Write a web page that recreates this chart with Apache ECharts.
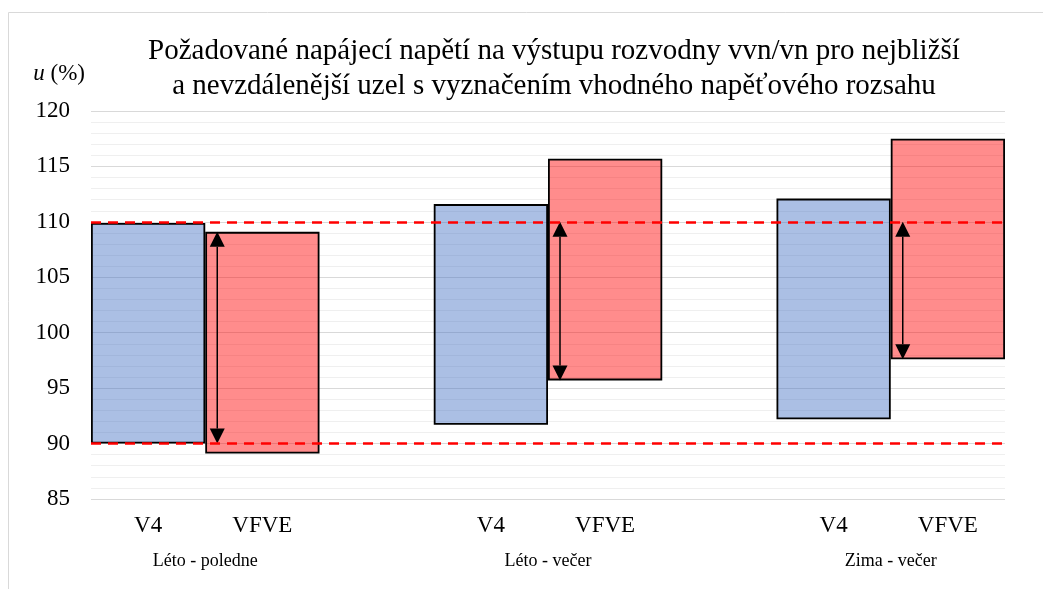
<!DOCTYPE html>
<html>
<head>
<meta charset="utf-8">
<style>
  html, body { margin: 0; padding: 0; background: #fff; }
  #chart { width: 1043px; height: 589px; }
</style>
<script src="https://cdn.jsdelivr.net/npm/echarts@6/dist/echarts.min.js"></script>
</head>
<body>
<div id="chart"></div>
<script>
// slots along the x axis: V4, VFVE, gap, V4, VFVE, gap, V4, VFVE
const slotLabels = ["V4", "VFVE", "", "V4", "VFVE", "", "V4", "VFVE"];
const groupNames = ["Léto - poledne", "Léto - večer", "Zima - večer"];
const groupStart = [0, 3, 6];

// voltage ranges (%)
const v4Low = [90, 91.7, 92.2];
const v4High = [109.9, 111.6, 112.1];
const vfveLow = [89.1, 95.7, 97.6];
const vfveHigh = [109.1, 115.7, 117.5];

// suitable range limits and arrows (from, to)
const limits = [110, 90];
const arrowTop = [109.1, 110, 110];
const arrowBottom = [90, 95.7, 97.6];

const yTicks = [85, 90, 95, 100, 105, 110, 115, 120];

const font = "Liberation Serif";

// build slot arrays for the floating stacked bars
const baseData = slotLabels.map(() => "-");
const v4Data = slotLabels.map(() => "-");
const vfveData = slotLabels.map(() => "-");
groupStart.forEach((s, i) => {
  baseData[s] = v4Low[i];
  v4Data[s] = +(v4High[i] - v4Low[i]).toFixed(2);
  baseData[s + 1] = vfveLow[i];
  vfveData[s + 1] = +(vfveHigh[i] - vfveLow[i]).toFixed(2);
});
const arrowData = groupStart.map((s, i) => [s + 1, arrowTop[i], arrowBottom[i]]);

const groupLabelAt = {};
groupStart.forEach((s, i) => { groupLabelAt[s + 1] = groupNames[i]; });

const chart = echarts.init(document.getElementById("chart"));

function renderArrow(params, api) {
  const idx = api.value(0);
  const p1 = api.coord([idx, api.value(1)]);
  const p2 = api.coord([idx, api.value(2)]);
  const band = api.size([1, 0])[0];
  const x = p1[0] - band / 2 + 12;
  const head = 15;
  const half = 7.5;
  return {
    type: "group",
    children: [
      {
        type: "line",
        shape: { x1: x, y1: p1[1] + head, x2: x, y2: p2[1] - head },
        style: { stroke: "#000", lineWidth: 1.5 },
      },
      {
        type: "polygon",
        shape: { points: [[x, p1[1]], [x - half, p1[1] + head], [x + half, p1[1] + head]] },
        style: { fill: "#000" },
      },
      {
        type: "polygon",
        shape: { points: [[x, p2[1]], [x - half, p2[1] - head], [x + half, p2[1] - head]] },
        style: { fill: "#000" },
      },
    ],
  };
}

chart.setOption({
  animation: false,
  title: {
    text: "Požadované napájecí napětí na výstupu rozvodny vvn/vn pro nejbližší\na nevzdálenější uzel s vyznačením vhodného napěťového rozsahu",
    left: 549,
    top: 29,
    textAlign: "center",
    textStyle: { fontFamily: font, fontSize: 29, fontWeight: "normal", color: "#000", lineHeight: 35 },
  },
  graphic: [
    {
      type: "rect",
      shape: { x: 8.5, y: 12.5, width: 1200, height: 800 },
      style: { fill: "none", stroke: "#d9d9d9", lineWidth: 1 },
      silent: true,
    },
  ],
  grid: { left: 91, right: 38, top: 111, bottom: 90 },
  xAxis: [
    {
      type: "category",
      data: slotLabels,
      axisLine: { show: false },
      axisTick: { show: false },
      axisLabel: { interval: 0, margin: 15, fontFamily: font, fontSize: 23, color: "#000" },
    },
    {
      type: "value",
      min: 0,
      max: 8,
      interval: 1,
      position: "bottom",
      offset: 40,
      axisLine: { show: false },
      axisTick: { show: false },
      splitLine: { show: false },
      axisLabel: {
        margin: 13,
        fontFamily: font,
        fontSize: 18,
        color: "#000",
        formatter: (v) => groupLabelAt[v] || "",
      },
    },
  ],
  yAxis: {
    type: "value",
    min: yTicks[0],
    max: yTicks[yTicks.length - 1],
    interval: 5,
    name: "{i|u} (%)",
    nameLocation: "end",
    nameGap: 26,
    nameTextStyle: {
      align: "right",
      padding: [0, 6, 0, 0],
      fontFamily: font,
      fontSize: 23,
      color: "#000",
      rich: { i: { fontFamily: font, fontSize: 23, fontStyle: "italic", color: "#000" } },
    },
    axisLine: { show: false },
    axisTick: { show: false },
    axisLabel: { margin: 21, fontFamily: font, fontSize: 23, color: "#000" },
    splitLine: { lineStyle: { color: "#d9d9d9", width: 1 } },
    minorTick: { show: false, splitNumber: 5 },
    minorSplitLine: { show: true, lineStyle: { color: "#efefef", width: 1 } },
  },
  series: [
    {
      name: "base",
      type: "bar",
      stack: "range",
      barWidth: "100%",
      data: baseData,
      itemStyle: { color: "transparent", borderWidth: 0 },
      silent: true,
    },
    {
      name: "V4",
      type: "bar",
      stack: "range",
      barWidth: "100%",
      data: v4Data,
      itemStyle: { color: "rgba(68,114,196,0.45)", borderColor: "#000", borderWidth: 1.8 },
    },
    {
      name: "VFVE",
      type: "bar",
      stack: "range",
      barWidth: "100%",
      data: vfveData,
      itemStyle: { color: "rgba(255,0,0,0.45)", borderColor: "#000", borderWidth: 1.8 },
    },
    {
      name: "arrows",
      type: "custom",
      renderItem: renderArrow,
      data: arrowData,
      encode: { x: 0, y: [1, 2] },
      z: 4,
      markLine: {
        silent: true,
        symbol: "none",
        label: { show: false },
        lineStyle: { color: "#ff0000", type: [10, 7], width: 2.5 },
        data: limits.map((v) => ({ yAxis: v })),
      },
    },
  ],
});
</script>
</body>
</html>
